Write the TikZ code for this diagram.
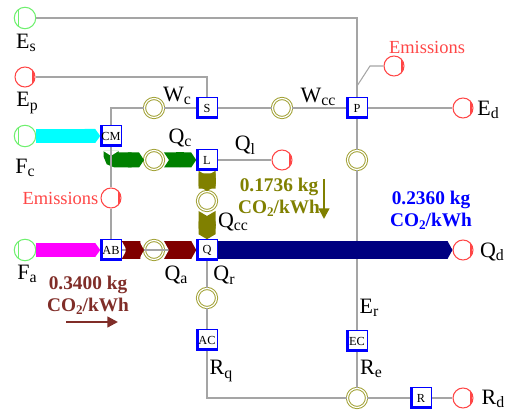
\documentclass[tikz,border=0pt]{standalone}
\usepackage{fontspec}
\setmainfont{Liberation Serif}
\usetikzlibrary{arrows.meta, positioning}

\definecolor{srcgreen}{RGB}{110,240,110}
\definecolor{emred}{RGB}{255,70,70}
\definecolor{junc}{RGB}{160,160,50}
\definecolor{linegray}{RGB}{165,165,165}
\definecolor{bandcyan}{RGB}{0,255,255}
\definecolor{bandmagenta}{RGB}{255,0,255}
\definecolor{bandgreen}{RGB}{0,128,0}
\definecolor{bandred}{RGB}{128,0,0}
\definecolor{bandolive}{RGB}{128,128,0}
\definecolor{bandnavy}{RGB}{0,0,128}
\definecolor{boxblue}{RGB}{0,0,255}
\definecolor{txtred}{RGB}{128,45,40}

\newcommand{\lowidx}[1]{\raisebox{-0.35ex}{\fontsize{9}{9}\selectfont #1}}
\newcommand{\cotwo}{CO\raisebox{-0.3ex}{\fontsize{7.5}{8}\selectfont 2}}

\begin{document}
\begin{tikzpicture}[
    x=0.02cm, y=-0.02cm,
    lbl/.style={font=\fontsize{12.5}{13}\selectfont, inner sep=0pt},
    note/.style={font=\fontsize{11}{12.5}\selectfont\bfseries, align=center, inner sep=0pt},
    unitbox/.style={rectangle, draw=boxblue, line width=0.6pt, fill=white, minimum width=0.41cm, minimum height=0.41cm, inner sep=0pt, font=\fontsize{7}{7}\selectfont,
        path picture={\draw[boxblue, line width=2pt] (path picture bounding box.north west) -- (path picture bounding box.south west) -- (path picture bounding box.south east);}},
    src/.style={circle, draw=srcgreen, line width=0.6pt, fill=white, minimum size=0.43cm, inner sep=0pt,
        path picture={\draw[srcgreen, line width=0.6pt] ([xshift=-3.8pt]path picture bounding box.north) -- ([xshift=-3.8pt]path picture bounding box.south);}},
    sink/.style={circle, draw=emred, line width=0.6pt, fill=white, minimum size=0.4cm, inner sep=0pt,
        path picture={\foreach \d in {3.9pt,4.8pt} \draw[emred, line width=0.4pt] ([xshift=\d]path picture bounding box.north) -- ([xshift=\d]path picture bounding box.south);}},
    junction/.style={circle, draw=junc, double=white, double distance=0.7pt, line width=0.55pt, fill=white, minimum size=0.38cm, inner sep=0pt},
    wire/.style={draw=linegray, line width=0.6pt},
    band/.style={line width=#1, -{Triangle Cap[length=0.1cm]}},
    chev/.style={line width=#1, {Triangle Cap[reversed, length=0.1cm]}-{Triangle Cap[length=0.1cm]}},
    flowarrow/.style={line width=1.3pt, -{Triangle[length=6pt, width=6pt]}},
]
\useasboundingbox (0,0) rectangle (506,411);

% sources
\node[src] (es) at (25,18) {};
\node[sink] (ep) at (25,77) {};
\node[src] (fc) at (25,136) {};
\node[src] (fa) at (25,250) {};

% units
\node[unitbox] (cm) at (111,136) {CM};
\node[unitbox] (s) at (207,108) {S};
\node[unitbox] (l) at (207,160) {L};
\node[unitbox] (ab) at (111,250) {AB};
\node[unitbox] (q) at (207,250) {Q};
\node[unitbox] (ac) at (207,340) {AC};
\node[unitbox] (p) at (357,108) {P};
\node[unitbox] (ec) at (357,341) {EC};
\node[unitbox] (r) at (421,398) {R};

% junctions
\node[junction] (jwc) at (154,108) {};
\node[junction] (jwcc) at (282,108) {};
\node[junction] (jqc) at (154,160) {};
\node[junction] (jqcc) at (207,201) {};
\node[junction] (jqa) at (154,250) {};
\node[junction] (jqr) at (207,298) {};
\node[junction] (jer) at (357,160) {};
\node[junction] (jre) at (357,398) {};

% sinks
\node[sink] (emp) at (394,66) {};
\node[sink] (ed) at (463,108) {};
\node[sink] (ql) at (282,160) {};
\node[sink] (emab) at (111,198) {};
\node[sink] (qd) at (463,250) {};
\node[sink] (rd) at (463,398) {};

% wires
\draw[wire] (es.east) -| (p.north);
\draw[wire] (ep.east) -| (s.north);
\draw[wire] (s.west) -- (jwc.east);
\draw[wire] (jwc.west) -| (cm.north);
\draw[wire] (s.east) -- (jwcc.west);
\draw[wire] (jwcc.east) -- (p.west);
\draw[wire] (p.east) -- (ed.west);
\coordinate (ptap) at (357,86);
\draw[wire] (ptap) -- ++(13,-20) -- (emp.west);
\draw[wire] (p.south) -- (jer.north);
\draw[wire] (jer.south) -- (ec.north);
\draw[wire] (ec.south) -- (jre.north);
\draw[wire] (l.east) -- (ql.west);
\draw[wire] (ab.east) -- (q.west);
\draw[wire] (q.south) -- (jqr.north);
\draw[wire] (jqr.south) -- (ac.north);
\draw[wire] (ac.south) |- (jre.west);
\draw[wire] (jre.east) -- (r.west);
\draw[wire] (r.east) -- (rd.west);

% energy bands
\draw[band=0.28cm, bandcyan] (fc.east) -- (cm.west);
\draw[band=0.28cm, bandmagenta] (fa.east) -- (ab.west);
\draw[band=0.3cm, bandgreen, rounded corners=0.1cm] ([yshift=-0.08cm]cm.south) |- (jqc.west);
\fill[white] ([xshift=-0.16cm, yshift=-0.08cm]cm.south) -- ([yshift=-0.18cm]cm.south) -- ([xshift=0.16cm, yshift=-0.08cm]cm.south) -- cycle;
\draw[wire] (cm.south) -- (emab.north);
\draw[wire] (emab.south) -- (ab.north);
\draw[chev=0.3cm, bandgreen] (jqc.east) -- (l.west);
\draw[chev=0.34cm, bandolive] (l.south) -- (jqcc.north);
\draw[chev=0.34cm, bandolive] (jqcc.south) -- (q.north);
\draw[chev=0.36cm, bandred] (ab.east) -- (jqa.west);
\draw[chev=0.36cm, bandred] (jqa.east) -- (q.west);
\draw[band=0.36cm, bandnavy] (q.east) -- (qd.west);

% labels
\node[lbl] at (26,43) {E\lowidx{s}};
\node[lbl] at (27,103) {E\lowidx{p}};
\node[lbl] at (25,168) {F\lowidx{c}};
\node[lbl] at (27,274) {F\lowidx{a}};
\node[lbl] at (177,96) {W\lowidx{c}};
\node[lbl] at (318,97) {W\lowidx{cc}};
\node[lbl] at (488,110) {E\lowidx{d}};
\node[lbl] at (180,138) {Q\lowidx{c}};
\node[lbl] at (245,145) {Q\lowidx{l}};
\node[lbl] at (233,222) {Q\lowidx{cc}};
\node[lbl] at (176,275) {Q\lowidx{a}};
\node[lbl] at (224,275) {Q\lowidx{r}};
\node[lbl] at (492,252) {Q\lowidx{d}};
\node[lbl] at (369,308) {E\lowidx{r}};
\node[lbl] at (221,371) {R\lowidx{q}};
\node[lbl] at (371,369) {R\lowidx{e}};
\node[lbl] at (493,399) {R\lowidx{d}};
\node[lbl, font=\fontsize{10.5}{12}\selectfont, text=emred] at (427,47) {Emissions};
\node[lbl, font=\fontsize{10.5}{12}\selectfont, text=emred, left=1pt of emab] {Emissions};

% emission factors
\node[note, text=bandolive] (efq) at (279,197) {0.1736 kg\\\cotwo/kWh};
\node[note, text=boxblue] (efd) at (431,210) {0.2360 kg\\\cotwo/kWh};
\node[note, text=txtred] (efa) at (88,295) {0.3400 kg\\\cotwo/kWh};
\coordinate (qtop) at (324,179);
\coordinate (qbot) at (324,219);
\draw[flowarrow, bandolive] (qtop) -- (qbot);
\coordinate (aleft) at (66,322);
\coordinate (aright) at (118,322);
\draw[flowarrow, txtred] (aleft) -- (aright);

\end{tikzpicture}
\end{document}
